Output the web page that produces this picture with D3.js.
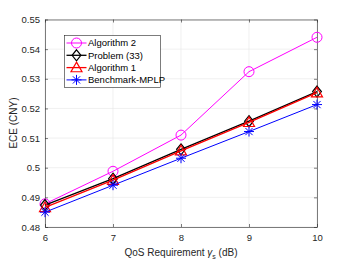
<!DOCTYPE html>
<html><head><meta charset="utf-8">
<script src="https://cdn.jsdelivr.net/npm/d3@7"></script>
<style>body{margin:0;background:#fff}svg{display:block}text{font-family:"Liberation Sans",Arial,sans-serif}</style>
</head><body><svg id="c" width="350" height="263"></svg>
<script>
const xValues = [6, 7, 8, 9, 10];
const alg2 = [0.4878, 0.4988, 0.5110, 0.5324, 0.5440];
const prob33 = [0.4874, 0.4963, 0.5062, 0.5157, 0.5257];
const alg1 = [0.4866, 0.4958, 0.5057, 0.5153, 0.5253];
const mplp = [0.4850, 0.4941, 0.5032, 0.5122, 0.5213];
const yTicks = [0.48, 0.49, 0.5, 0.51, 0.52, 0.53, 0.54, 0.55];
const yTickLabels = ["0.48", "0.49", "0.5", "0.51", "0.52", "0.53", "0.54", "0.55"];
const seriesNames = ["Algorithm 2", "Problem (33)", "Algorithm 1", "Benchmark-MPLP"];

const svg = d3.select("#c");
const L = 45, R = 317, T = 19.5, B = 227;
const x = d3.scaleLinear().domain([6, 10]).range([L, R]);
const y = d3.scaleLinear().domain([0.48, 0.55]).range([B, T]);
const axisCol = "#262626";

// grid
svg.append("g").selectAll("line.gx").data(xValues).join("line")
  .attr("x1", d => x(d)).attr("x2", d => x(d)).attr("y1", T).attr("y2", B)
  .attr("stroke", "#e5e5e5").attr("stroke-width", 0.6);
svg.append("g").selectAll("line.gy").data(yTicks).join("line")
  .attr("x1", L).attr("x2", R).attr("y1", d => y(d)).attr("y2", d => y(d))
  .attr("stroke", "#e5e5e5").attr("stroke-width", 0.6);

// axes
const gx = svg.append("g").attr("transform", `translate(0,${B})`)
  .call(d3.axisBottom(x).tickValues(xValues).tickFormat(d3.format("d")).tickSizeInner(-3).tickSizeOuter(0).tickPadding(7));
const gxt = svg.append("g").attr("transform", `translate(0,${T})`)
  .call(d3.axisTop(x).tickValues(xValues).tickFormat("").tickSizeInner(-3).tickSizeOuter(0));
const gy = svg.append("g").attr("transform", `translate(${L},0)`)
  .call(d3.axisLeft(y).tickValues(yTicks).tickFormat((d, i) => yTickLabels[i]).tickSizeInner(-3).tickSizeOuter(0).tickPadding(5));
const gyr = svg.append("g").attr("transform", `translate(${R},0)`)
  .call(d3.axisRight(y).tickValues(yTicks).tickFormat("").tickSizeInner(-3).tickSizeOuter(0));
[gx, gxt, gy, gyr].forEach(g => {
  g.selectAll("path").attr("stroke", axisCol).attr("stroke-width", 0.6);
  g.selectAll("line").attr("stroke", axisCol).attr("stroke-width", 0.6);
  g.selectAll("text").attr("fill", axisCol).attr("font-size", 9.5).attr("font-family", '"Liberation Sans",Arial,sans-serif');
});

// marker shapes
function drawMarker(g, type, cx, cy, col) {
  if (type === "circle") {
    g.append("circle").attr("cx", cx).attr("cy", cy).attr("r", 5).attr("fill", "none").attr("stroke", col).attr("stroke-width", 1);
  } else if (type === "diamond") {
    const s = 5.5;
    g.append("path").attr("d", `M${cx},${cy - s}L${cx + s * 0.8},${cy}L${cx},${cy + s}L${cx - s * 0.8},${cy}Z`)
      .attr("fill", "none").attr("stroke", col).attr("stroke-width", 1.2);
  } else if (type === "triangle") {
    const s = 5.5;
    g.append("path").attr("d", `M${cx},${cy - s}L${cx + s},${cy + s * 0.75}L${cx - s},${cy + s * 0.75}Z`)
      .attr("fill", "none").attr("stroke", col).attr("stroke-width", 1.2);
  } else if (type === "star") {
    const s = 5;
    const d = s * 0.72;
    g.append("path").attr("d", `M${cx - s},${cy}L${cx + s},${cy}M${cx},${cy - s}L${cx},${cy + s}M${cx - d},${cy - d}L${cx + d},${cy + d}M${cx - d},${cy + d}L${cx + d},${cy - d}`)
      .attr("fill", "none").attr("stroke", col).attr("stroke-width", 1);
  }
}

const series = [
  { name: seriesNames[0], vals: alg2, col: "#ff00ff", m: "circle", w: 1 },
  { name: seriesNames[1], vals: prob33, col: "#000000", m: "diamond", w: 1.3 },
  { name: seriesNames[2], vals: alg1, col: "#ff0000", m: "triangle", w: 1.3 },
  { name: seriesNames[3], vals: mplp, col: "#0000ff", m: "star", w: 1 }
];
const line = d3.line().x((d, i) => x(xValues[i])).y(d => y(d));
series.forEach(s => {
  const g = svg.append("g");
  g.append("path").datum(s.vals).attr("d", line).attr("fill", "none").attr("stroke", s.col).attr("stroke-width", s.w);
  s.vals.forEach((v, i) => drawMarker(g, s.m, x(xValues[i]), y(v), s.col));
});

// legend
const lg = svg.append("g");
lg.append("rect").attr("x", 64.5).attr("y", 35.5).attr("width", 96).attr("height", 52)
  .attr("fill", "#fff").attr("stroke", axisCol).attr("stroke-width", 0.6);
series.forEach((s, i) => {
  const cy = 43 + i * 12.3;
  lg.append("line").attr("x1", 66.5).attr("x2", 86.5).attr("y1", cy).attr("y2", cy).attr("stroke", s.col).attr("stroke-width", s.w);
  drawMarker(lg, s.m, 76.5, cy, s.col);
  lg.append("text").attr("x", 88).attr("y", cy + 3.4).attr("font-size", 9.5).attr("fill", "#000").text(s.name);
});

// axis labels
const xl = svg.append("text").attr("x", 181).attr("y", 256).attr("text-anchor", "middle").attr("font-size", 10).attr("fill", axisCol);
xl.append("tspan").text("QoS Requirement ");
xl.append("tspan").text("γ").attr("font-style", "italic");
xl.append("tspan").text("s").attr("font-size", 7).attr("dy", 2.5);
xl.append("tspan").text(" (dB)").attr("dy", -2.5);
svg.append("text").attr("transform", "translate(17,123) rotate(-90)").attr("text-anchor", "middle").attr("font-size", 10).attr("fill", axisCol).text("ECE (CNY)");
</script></body></html>
